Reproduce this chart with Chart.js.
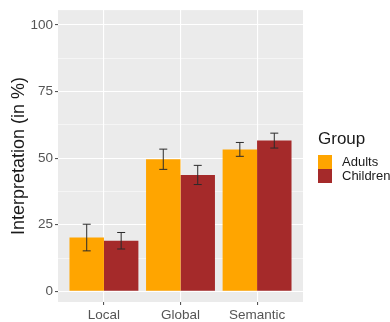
<!DOCTYPE html>
<html>
<head>
<meta charset="utf-8">
<script src="https://cdn.jsdelivr.net/npm/chart.js@4/dist/chart.umd.min.js"></script>
<style>
  html, body { margin: 0; padding: 0; background: #ffffff; }
  #wrap { width: 390px; height: 322px; }
</style>
</head>
<body>
<div id="wrap"><canvas id="c" width="390" height="322"></canvas></div>
<script>
// Interpretation rates (%) by condition and group, with error bar half-widths
const categories = ['Local', 'Global', 'Semantic'];
const groups = ['Adults', 'Children'];
const adults = [20.2, 49.6, 53.3];
const children = [19.0, 43.7, 56.6];
const adultsErr = [5.0, 3.8, 2.6];
const childrenErr = [3.1, 3.6, 2.8];
const yTicks = [0, 25, 50, 75, 100];
const yMinor = [12.5, 37.5, 62.5, 87.5];

const colors = ['#FFA500', '#A52A2A'];
const FONT = '"Liberation Sans", Arial, sans-serif';

const toPoints = vals => vals.map((v, i) => ({ x: i + 1, y: v }));

// grey panel behind the grid
const panelBg = {
  id: 'panelBg',
  beforeDraw(chart) {
    const { ctx, chartArea: a } = chart;
    ctx.save();
    ctx.fillStyle = '#EBEBEB';
    ctx.fillRect(a.left, a.top, a.right - a.left, a.bottom - a.top);
    ctx.restore();
  }
};

// error bars (mean ± err) on each bar
const errorBars = {
  id: 'errorBars',
  afterDatasetsDraw(chart) {
    const { ctx } = chart;
    const y = chart.scales.y;
    const errs = [adultsErr, childrenErr];
    ctx.save();
    ctx.strokeStyle = '#2b2b2b';
    ctx.lineWidth = 1;
    chart.data.datasets.forEach((ds, d) => {
      const meta = chart.getDatasetMeta(d);
      meta.data.forEach((bar, i) => {
        const v = ds.data[i].y;
        const e = errs[d][i];
        const yt = y.getPixelForValue(v + e);
        const yb = y.getPixelForValue(v - e);
        const x = bar.x;
        const hw = 4;
        ctx.beginPath();
        ctx.moveTo(x, yt); ctx.lineTo(x, yb);
        ctx.moveTo(x - hw, yt); ctx.lineTo(x + hw, yt);
        ctx.moveTo(x - hw, yb); ctx.lineTo(x + hw, yb);
        ctx.stroke();
      });
    });
    ctx.restore();
  }
};

// y axis title and the group legend
const annotations = {
  id: 'annotations',
  afterDraw(chart) {
    const { ctx, chartArea: a } = chart;
    ctx.save();
    ctx.fillStyle = '#1a1a1a';
    ctx.textAlign = 'center';
    ctx.textBaseline = 'middle';
    ctx.font = '18px ' + FONT;
    ctx.translate(19, (a.top + a.bottom) / 2);
    ctx.rotate(-Math.PI / 2);
    ctx.fillText('Interpretation (in %)', 0, 0);
    ctx.restore();

    ctx.save();
    ctx.fillStyle = '#1a1a1a';
    ctx.textAlign = 'left';
    ctx.textBaseline = 'middle';
    ctx.font = '17px ' + FONT;
    ctx.fillText('Group', 318, 139);
    ctx.font = '13px ' + FONT;
    groups.forEach((g, i) => {
      const top = 155 + i * 14;
      ctx.fillStyle = colors[i];
      ctx.fillRect(318, top, 14, 14);
      ctx.fillStyle = '#1a1a1a';
      ctx.fillText(g, 342, top + 7.5);
    });
    ctx.restore();
  }
};

new Chart(document.getElementById('c'), {
  type: 'bar',
  data: {
    datasets: [
      { label: groups[0], data: toPoints(adults), backgroundColor: colors[0], borderWidth: 0 },
      { label: groups[1], data: toPoints(children), backgroundColor: colors[1], borderWidth: 0 }
    ]
  },
  options: {
    responsive: false,
    animation: false,
    devicePixelRatio: 1,
    layout: { padding: { left: 0, top: 9, right: 87, bottom: 0 } },
    plugins: { legend: { display: false }, tooltip: { enabled: false } },
    datasets: { bar: { categoryPercentage: 0.9, barPercentage: 1.0 } },
    scales: {
      x: {
        type: 'linear',
        offset: false,
        min: 0.4,
        max: 3.6,
        afterBuildTicks(scale) { scale.ticks = categories.map((c, i) => ({ value: i + 1 })); },
        afterFit(scale) { scale.height = 20; },
        ticks: {
          callback: v => categories[Math.round(v) - 1],
          font: { family: FONT, size: 13.5 },
          color: '#555555',
          padding: 2,
          maxRotation: 0,
          autoSkip: false
        },
        grid: { color: '#ffffff', lineWidth: 1.1, tickColor: '#555555', tickLength: 3, offset: false },
        border: { display: false }
      },
      y: {
        min: -4,
        max: 105.6,
        afterBuildTicks(scale) {
          scale.ticks = yTicks.concat(yMinor).sort((p, q) => p - q).map(v => ({ value: v }));
        },
        afterFit(scale) { scale.width = 58; },
        ticks: {
          callback: v => (yTicks.includes(v) ? String(v) : ''),
          font: { family: FONT, size: 13.5 },
          color: '#555555',
          padding: 2,
          autoSkip: false
        },
        grid: {
          color: '#ffffff',
          lineWidth: c => (yTicks.includes(c.tick && c.tick.value) ? 1.1 : 0.5),
          tickColor: c => (yTicks.includes(c.tick && c.tick.value) ? '#555555' : 'rgba(0,0,0,0)'),
          tickLength: 3
        },
        border: { display: false }
      }
    }
  },
  plugins: [panelBg, errorBars, annotations]
});
</script>
</body>
</html>
